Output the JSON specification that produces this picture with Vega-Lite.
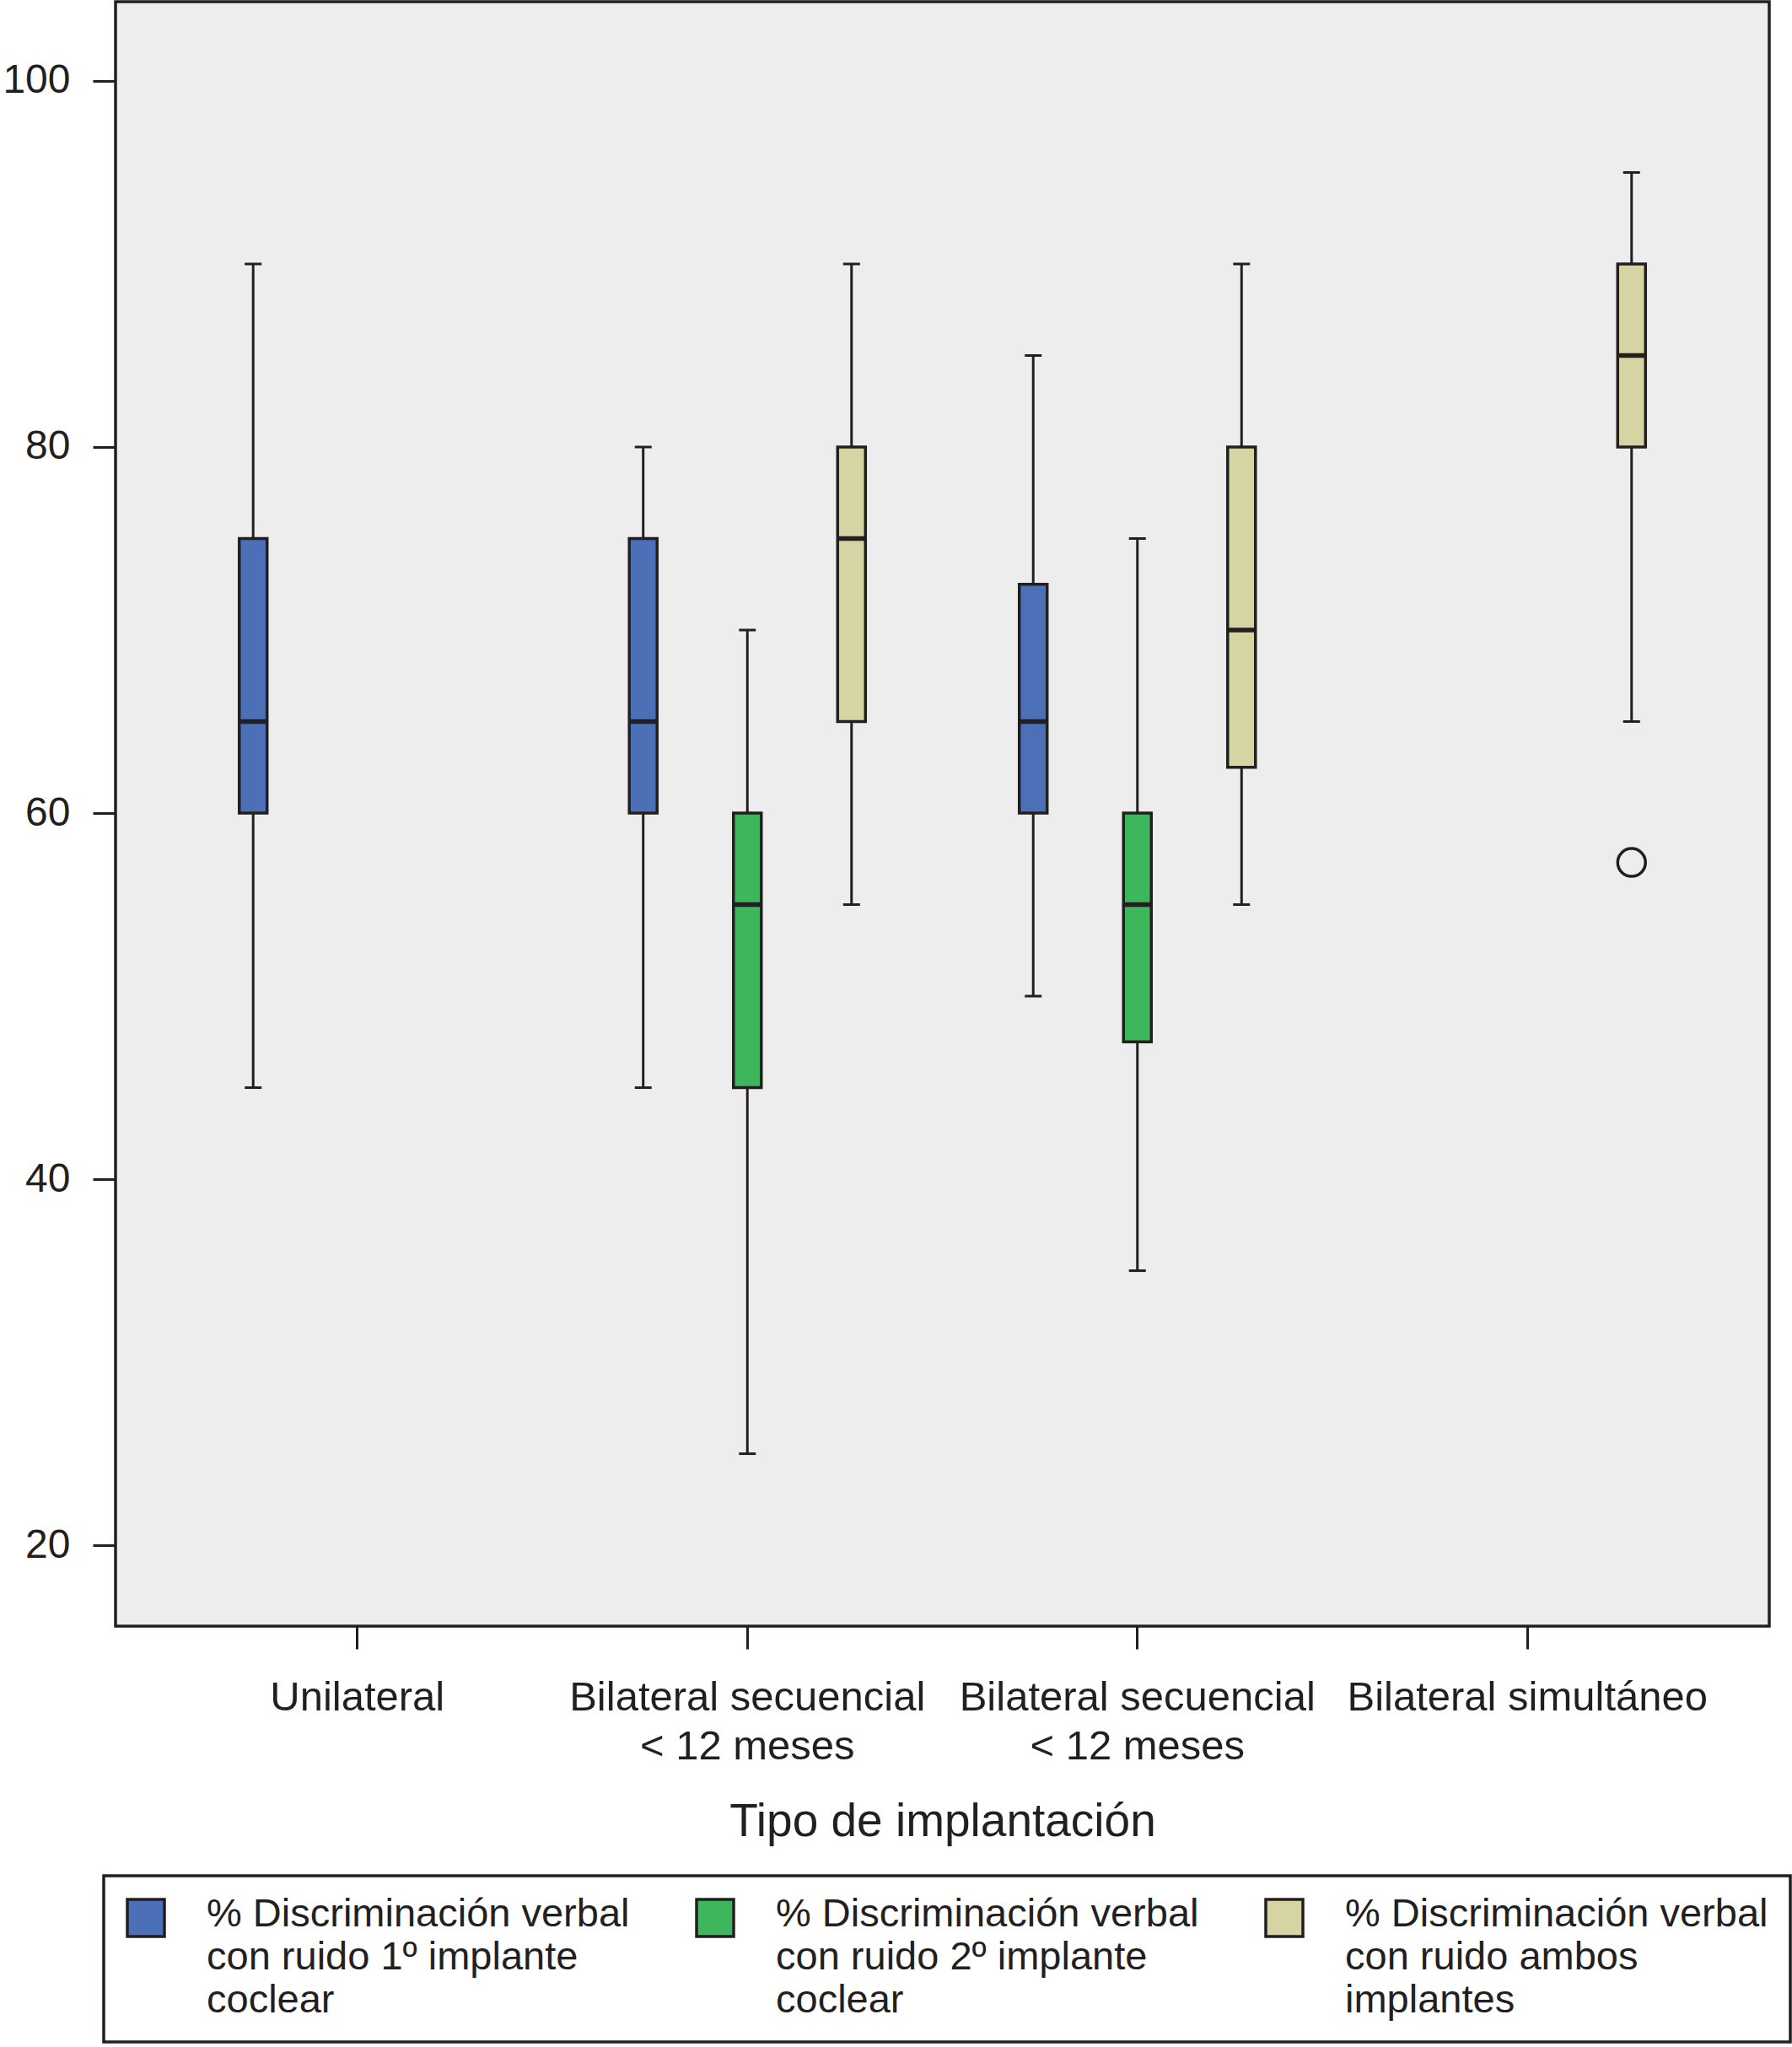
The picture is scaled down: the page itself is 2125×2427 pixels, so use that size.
{
  "$schema": "https://vega.github.io/schema/vega-lite/v6.json",
  "width": 1961,
  "height": 1926,
  "padding": {"left": 2, "top": 2, "right": 0, "bottom": 0},
  "datasets": {
    "cajas": [
      {"tipo": "Unilateral", "serie": "% Discriminación verbal con ruido 1º implante coclear", "minimo": 45, "q1": 60, "mediana": 65, "q3": 75, "maximo": 90},
      {"tipo": "Bilateral secuencial < 12 meses (grupo 1)", "serie": "% Discriminación verbal con ruido 1º implante coclear", "minimo": 45, "q1": 60, "mediana": 65, "q3": 75, "maximo": 80},
      {"tipo": "Bilateral secuencial < 12 meses (grupo 1)", "serie": "% Discriminación verbal con ruido 2º implante coclear", "minimo": 25, "q1": 45, "mediana": 55, "q3": 60, "maximo": 70},
      {"tipo": "Bilateral secuencial < 12 meses (grupo 1)", "serie": "% Discriminación verbal con ruido ambos implantes", "minimo": 55, "q1": 65, "mediana": 75, "q3": 80, "maximo": 90},
      {"tipo": "Bilateral secuencial < 12 meses (grupo 2)", "serie": "% Discriminación verbal con ruido 1º implante coclear", "minimo": 50, "q1": 60, "mediana": 65, "q3": 72.5, "maximo": 85},
      {"tipo": "Bilateral secuencial < 12 meses (grupo 2)", "serie": "% Discriminación verbal con ruido 2º implante coclear", "minimo": 35, "q1": 47.5, "mediana": 55, "q3": 60, "maximo": 75},
      {"tipo": "Bilateral secuencial < 12 meses (grupo 2)", "serie": "% Discriminación verbal con ruido ambos implantes", "minimo": 55, "q1": 62.5, "mediana": 70, "q3": 80, "maximo": 90},
      {"tipo": "Bilateral simultáneo", "serie": "% Discriminación verbal con ruido ambos implantes", "minimo": 65, "q1": 80, "mediana": 85, "q3": 90, "maximo": 95}
    ],
    "atipicos": [
      {"tipo": "Bilateral simultáneo", "serie": "% Discriminación verbal con ruido ambos implantes", "valor": 57.3}
    ]
  },
  "data": {"name": "cajas"},
  "encoding": {
    "x": {
      "field": "tipo",
      "type": "nominal",
      "title": "Tipo de implantación",
      "scale": {
        "domain": ["Unilateral", "Bilateral secuencial < 12 meses (grupo 1)", "Bilateral secuencial < 12 meses (grupo 2)", "Bilateral simultáneo"],
        "paddingInner": 0,
        "paddingOuter": 0.12
      },
      "axis": {
        "labelExpr": "indexof(datum.label, 'secuencial') >= 0 ? ['Bilateral secuencial', '< 12 meses'] : datum.label",
        "labelAngle": 0,
        "labelFontSize": 49,
        "labelLineHeight": 58,
        "labelPadding": 33,
        "labelLimit": 1000,
        "labelOverlap": false,
        "labelColor": "#231f20",
        "tickSize": 27,
        "tickWidth": 3,
        "tickColor": "#231f20",
        "domain": false,
        "grid": false,
        "titleFontSize": 55,
        "titleFontWeight": "normal",
        "titleColor": "#231f20",
        "titlePadding": 38
      }
    },
    "xOffset": {
      "field": "serie",
      "type": "nominal",
      "scale": {
        "domain": ["% Discriminación verbal con ruido 1º implante coclear", "% Discriminación verbal con ruido 2º implante coclear", "% Discriminación verbal con ruido ambos implantes"],
        "paddingInner": 0,
        "paddingOuter": 0.372
      }
    }
  },
  "layer": [
    {
      "mark": {"type": "rule", "color": "#231f20", "strokeWidth": 3},
      "encoding": {
        "y": {
          "field": "minimo",
          "type": "quantitative",
          "title": null,
          "scale": {"domain": [15.58, 104.33], "nice": false, "zero": false},
          "axis": {
            "values": [20, 40, 60, 80, 100],
            "grid": false,
            "domain": false,
            "tickSize": 27,
            "tickWidth": 3,
            "tickColor": "#231f20",
            "labelFontSize": 48,
            "labelPadding": 27,
            "labelColor": "#231f20"
          }
        },
        "y2": {"field": "maximo"}
      }
    },
    {
      "mark": {"type": "tick", "color": "#231f20", "thickness": 3, "size": 20, "opacity": 1},
      "encoding": {"y": {"field": "minimo", "type": "quantitative", "title": null}}
    },
    {
      "mark": {"type": "tick", "color": "#231f20", "thickness": 3, "size": 20, "opacity": 1},
      "encoding": {"y": {"field": "maximo", "type": "quantitative", "title": null}}
    },
    {
      "mark": {"type": "bar", "width": 33, "stroke": "#231f20", "strokeWidth": 3.5, "opacity": 1},
      "encoding": {
        "y": {"field": "q1", "type": "quantitative", "title": null},
        "y2": {"field": "q3"},
        "color": {
          "field": "serie",
          "type": "nominal",
          "scale": {
            "domain": ["% Discriminación verbal con ruido 1º implante coclear", "% Discriminación verbal con ruido 2º implante coclear", "% Discriminación verbal con ruido ambos implantes"],
            "range": ["#4b70b7", "#3db65c", "#d6d4a2"]
          },
          "legend": {
            "title": null,
            "orient": "none",
            "legendX": -14,
            "legendY": 2222,
            "direction": "horizontal",
            "columns": 3,
            "columnPadding": 72,
            "rowPadding": 0,
            "padding": 26,
            "strokeColor": "#231f20",
            "fillColor": "#ffffff",
            "symbolType": "square",
            "symbolSize": 1936,
            "symbolStrokeWidth": 3.5,
            "symbolStrokeColor": "#231f20",
            "symbolOpacity": 1,
            "labelFontSize": 47,
            "labelOffset": 48,
            "labelLimit": 1000,
            "labelBaseline": "alphabetic",
            "labelColor": "#231f20",
            "labelExpr": "indexof(datum.label, '1º') >= 0 ? ['% Discriminación verbal', 'con ruido 1º implante', 'coclear'] : indexof(datum.label, '2º') >= 0 ? ['% Discriminación verbal', 'con ruido 2º implante', 'coclear'] : ['% Discriminación verbal', 'con ruido ambos', 'implantes']",
            "encode": {
              "labels": {"update": {"lineHeight": {"value": 51}, "dy": {"value": 10}}},
              "symbols": {"update": {"stroke": {"value": "#231f20"}, "strokeWidth": {"value": 3.5}}}
            }
          }
        }
      }
    },
    {
      "mark": {"type": "tick", "color": "#231f20", "thickness": 5.5, "size": 33, "opacity": 1},
      "encoding": {"y": {"field": "mediana", "type": "quantitative", "title": null}}
    },
    {
      "data": {"name": "atipicos"},
      "mark": {"type": "point", "shape": "circle", "filled": false, "size": 1089, "stroke": "#231f20", "strokeWidth": 3.5, "opacity": 1},
      "encoding": {"y": {"field": "valor", "type": "quantitative", "title": null}}
    }
  ],
  "config": {
    "font": "Liberation Sans",
    "view": {"stroke": "#231f20", "strokeWidth": 3.5, "fill": "#eeeded"},
    "legend": {"strokeWidth": 3.5}
  }
}
